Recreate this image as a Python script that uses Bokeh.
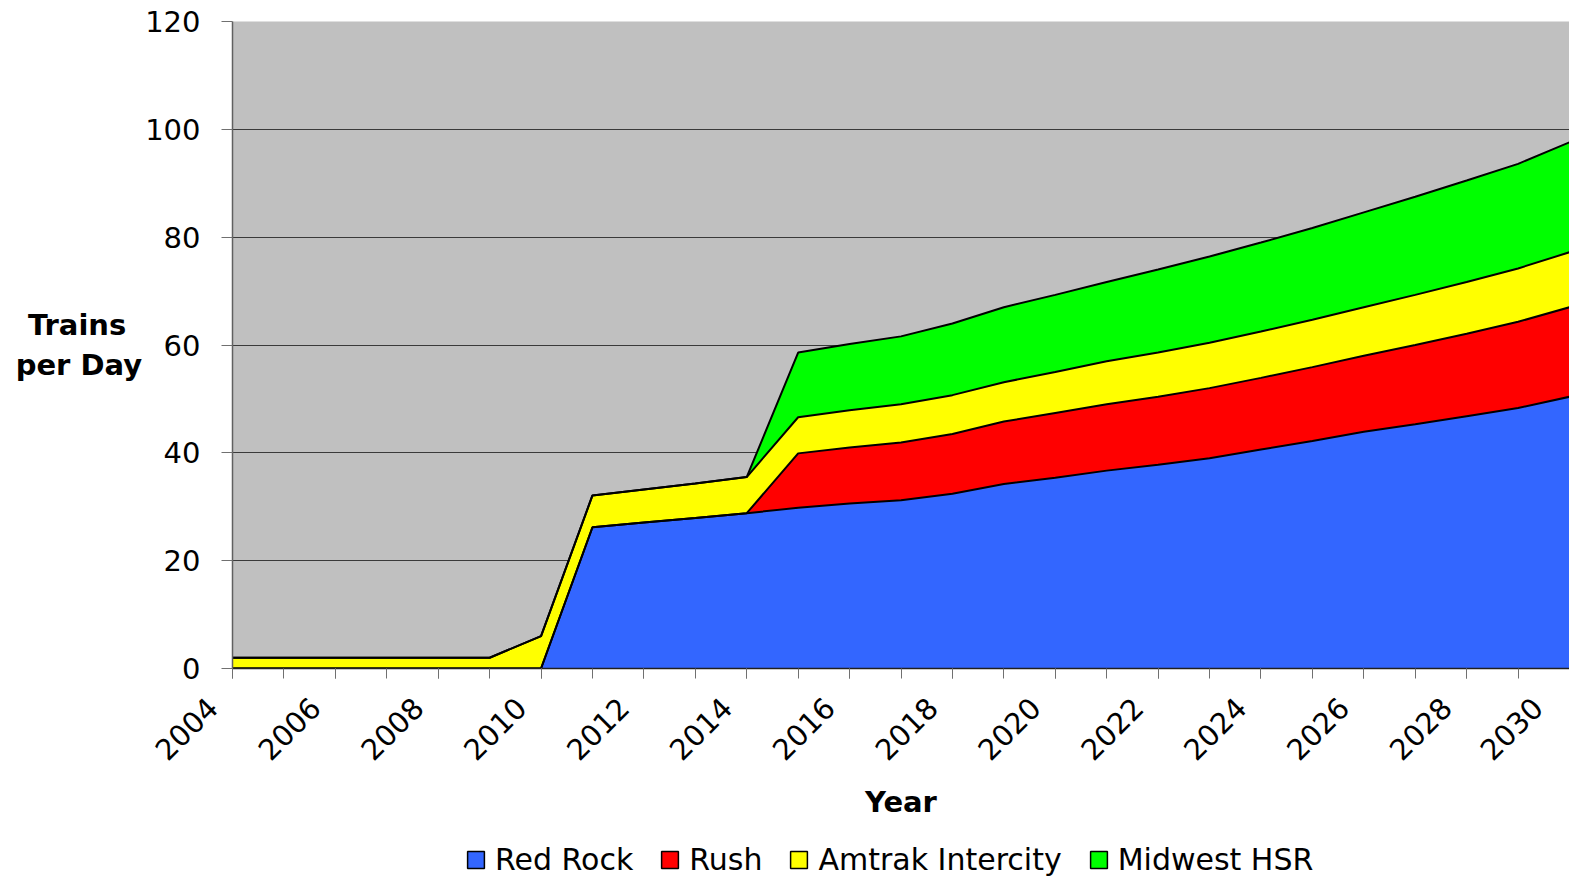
import math
from bokeh.plotting import figure
from bokeh.layouts import column
from bokeh.models import ColumnDataSource, Range1d, SingleIntervalTicker, Legend, LegendItem
from bokeh.embed import file_html
from bokeh.resources import INLINE

# ---- data ----
years = list(range(2004, 2031))
red_rock = [0, 0, 0, 0, 0, 0, 0,
            26.2, 27.1, 27.9, 28.8, 29.8, 30.6, 31.2, 32.4, 34.2, 35.4,
            36.7, 37.8, 39.0, 40.6, 42.2, 43.9, 45.3, 46.8, 48.3, 50.4]
rush = [0, 0, 0, 0, 0, 0, 0, 0, 0, 0, 0,
        10.1, 10.4, 10.7, 11.1, 11.6, 12.0, 12.3, 12.6, 13.0, 13.3,
        13.7, 14.1, 14.7, 15.3, 16.0, 16.6]
amtrak = [2, 2, 2, 2, 2, 2, 6,
          5.9, 6.1, 6.4, 6.7, 6.7, 6.9, 7.1, 7.2, 7.3, 7.6,
          8.0, 8.2, 8.4, 8.6, 8.8, 9.0, 9.3, 9.6, 9.9, 10.2]
hsr = [0, 0, 0, 0, 0, 0, 0, 0, 0, 0, 0,
       12.0, 12.3, 12.6, 13.3, 13.9, 14.3, 14.7, 15.4, 16.0, 16.5,
       17.0, 17.6, 18.2, 18.8, 19.4, 20.4]
x_tick_years = list(range(2004, 2031, 2))

series_names = ["Red Rock", "Rush", "Amtrak Intercity", "Midwest HSR"]
series_keys = ["rr", "rush", "amtrak", "hsr"]
series_colors = ["#3366FF", "#FF0000", "#FFFF00", "#00FF00"]

src = ColumnDataSource(dict(year=years, rr=red_rock, rush=rush, amtrak=amtrak, hsr=hsr))

FONT = "DejaVu Sans"
NB = "\u00a0"
TOTAL_W = 1569

p = figure(frame_width=1337, frame_height=647,
           x_range=Range1d(2004, 2030), y_range=Range1d(0, 120),
           output_backend="svg", toolbar_location=None,
           min_border_left=232, min_border_right=0,
           min_border_top=21, min_border_bottom=160)

p.background_fill_color = "#C0C0C0"
p.border_fill_color = "white"
p.outline_line_color = None

p.varea_stack(series_keys, x="year", color=series_colors, source=src)
p.vline_stack(series_keys, x="year", line_color="black", line_width=2, source=src)

# grid
p.xgrid.visible = False
p.ygrid.grid_line_color = "#3a3a3a"
p.ygrid.grid_line_width = 1

# x axis
p.xaxis.ticker = SingleIntervalTicker(interval=2, num_minor_ticks=2)
p.xaxis.major_label_overrides = {y: f"{y}{NB}{NB}{NB}" for y in x_tick_years}
p.xaxis.major_label_orientation = math.pi / 4
p.xaxis.major_label_text_font = FONT
p.xaxis.major_label_text_font_size = "29px"
p.xaxis.major_label_text_color = "black"
p.xaxis.major_label_standoff = 5
p.xaxis.major_tick_out = 10
p.xaxis.major_tick_in = 0
p.xaxis.minor_tick_out = 10
p.xaxis.minor_tick_in = 0
p.xaxis.major_tick_line_color = "#707070"
p.xaxis.minor_tick_line_color = "#707070"
p.xaxis.axis_line_color = "#202020"
p.xaxis.axis_line_width = 1.5
p.xaxis.axis_label = "Year"
p.xaxis.axis_label_text_font = FONT
p.xaxis.axis_label_text_font_style = "bold"
p.xaxis.axis_label_text_font_size = "29px"
p.xaxis.axis_label_text_color = "black"
p.xaxis.axis_label_standoff = 3

# y axis
p.yaxis.ticker = SingleIntervalTicker(interval=20, num_minor_ticks=0)
p.yaxis.major_label_text_font = FONT
p.yaxis.major_label_text_font_size = "29px"
p.yaxis.major_label_text_color = "black"
p.yaxis.major_label_standoff = 21
p.yaxis.major_tick_out = 11
p.yaxis.major_tick_in = 0
p.yaxis.minor_tick_line_color = None
p.yaxis.major_tick_line_color = "#707070"
p.yaxis.axis_line_color = "#606060"
p.yaxis.axis_line_width = 1.5
p.yaxis.axis_label = "Trains" + NB + "\u2009" + "\nper Day"
p.yaxis.axis_label_orientation = "horizontal"
p.yaxis.axis_label_text_line_height = 1.15
p.yaxis.axis_label_text_font = FONT
p.yaxis.axis_label_text_font_style = "bold"
p.yaxis.axis_label_text_font_size = "29px"
p.yaxis.axis_label_text_color = "black"
p.yaxis.axis_label_standoff = 0

# ---- legend strip below the chart ----
lf = figure(width=TOTAL_W, height=51, output_backend="svg", toolbar_location=None,
            x_axis_location=None, y_axis_location=None,
            min_border=0, x_range=Range1d(0, 1), y_range=Range1d(0, 1))
lf.outline_line_color = None
lf.background_fill_color = "white"
lf.border_fill_color = "white"
lf.xgrid.visible = False
lf.ygrid.visible = False

items = []
for name, col in zip(series_names, series_colors):
    r = lf.quad(left=[0], right=[0], top=[0], bottom=[0],
                fill_color=col, line_color="black", line_width=1.5)
    r.visible = False
    items.append(LegendItem(label=name, renderers=[r]))

legend = Legend(items=items, orientation="horizontal", location=(233, 2))
legend.label_text_font = FONT
legend.label_text_font_size = "30px"
legend.label_text_color = "black"
legend.glyph_width = 21
legend.glyph_height = 21
legend.spacing = 26
legend.label_standoff = 9
legend.border_line_color = None
legend.background_fill_alpha = 0
legend.inactive_fill_alpha = 0
legend.padding = 0
legend.margin = 0
lf.add_layout(legend, "center")

layout = column(p, lf, spacing=0)

open("out.html", "w").write(file_html(layout, INLINE))
